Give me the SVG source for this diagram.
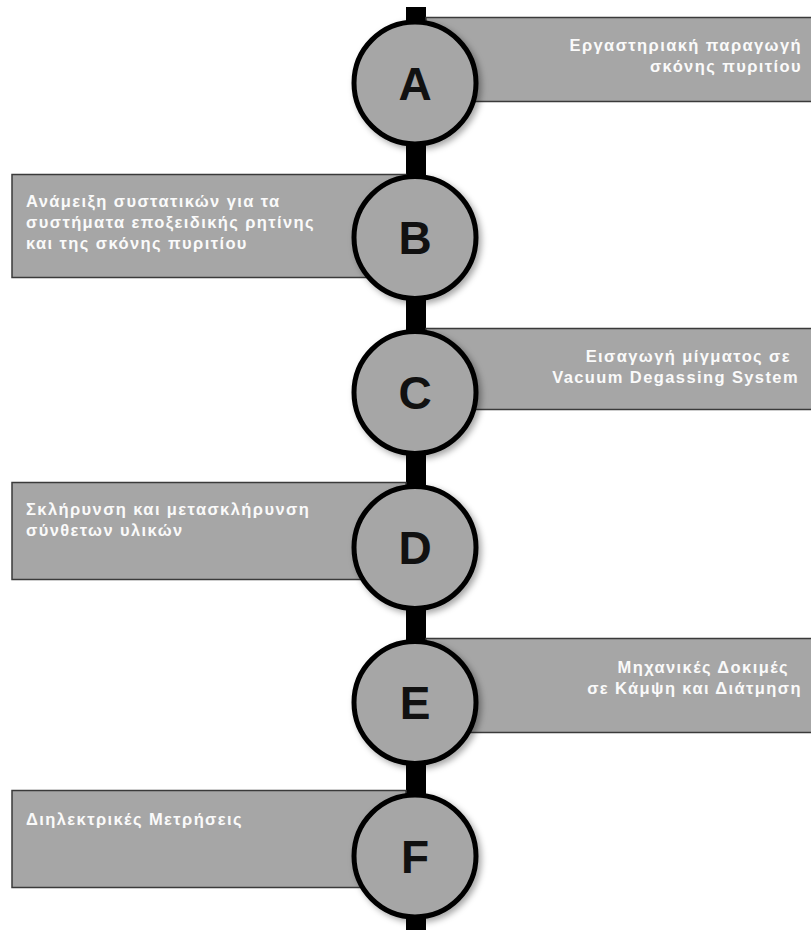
<svg xmlns="http://www.w3.org/2000/svg" width="811" height="930" viewBox="0 0 811 930">
<defs>
<filter id="sh" x="-20%" y="-20%" width="150%" height="150%">
<feDropShadow dx="3" dy="3" stdDeviation="3" flood-color="#000" flood-opacity="0.35"/>
</filter>
<style>
.box{fill:#a6a6a6;stroke:#3a3a3a;stroke-width:1.5}
.circ{fill:#a6a6a6;stroke:#000;stroke-width:5}
.letter{font-family:"Liberation Sans",Arial,sans-serif;font-weight:bold;font-size:46px;fill:#111;text-anchor:middle}
.lbl{font-family:"Liberation Sans",Arial,sans-serif;font-weight:bold;font-size:16.5px;fill:#fafafa;letter-spacing:1.4px}
.r{text-anchor:end}
.bar{stroke:#000;stroke-width:20;fill:none}
</style>
</defs>
<rect width="811" height="930" fill="#fff"/>
<g id="connectors">
<line class="bar" x1="416" y1="7" x2="416" y2="30"/>
<line class="bar" x1="416" y1="140" x2="416" y2="185"/>
<line class="bar" x1="416" y1="295" x2="416" y2="340"/>
<line class="bar" x1="416" y1="450" x2="416" y2="495"/>
<line class="bar" x1="416" y1="605" x2="416" y2="650"/>
<line class="bar" x1="416" y1="760" x2="416" y2="805"/>
<line class="bar" x1="416" y1="910" x2="416" y2="930"/>
</g>
<g id="nodeA">
<rect class="box" x="426" y="17.5" width="390" height="84"/>
<circle class="circ" cx="415" cy="83" r="61" filter="url(#sh)"/>
<text class="letter" x="415" y="100">A</text>
<text class="lbl r" x="802" y="51">Εργαστηριακή παραγωγή</text>
<text class="lbl r" x="802" y="72">σκόνης πυριτίου</text>
</g>
<g id="nodeB">
<rect class="box" x="12" y="174.5" width="394" height="103"/>
<circle class="circ" cx="415" cy="237.5" r="61" filter="url(#sh)"/>
<text class="letter" x="415" y="254">B</text>
<text class="lbl" x="26" y="207">Ανάμειξη συστατικών για τα</text>
<text class="lbl" x="26" y="228">συστήματα εποξειδικής ρητίνης</text>
<text class="lbl" x="26" y="249">και της σκόνης πυριτίου</text>
</g>
<g id="nodeC">
<rect class="box" x="426" y="328.5" width="390" height="81"/>
<circle class="circ" cx="415" cy="392.5" r="61" filter="url(#sh)"/>
<text class="letter" x="415" y="409">C</text>
<text class="lbl r" x="791" y="362">Εισαγωγή μίγματος σε</text>
<text class="lbl r" x="799" y="383">Vacuum Degassing System</text>
</g>
<g id="nodeD">
<rect class="box" x="12" y="482.5" width="394" height="97"/>
<circle class="circ" cx="415" cy="547.5" r="61" filter="url(#sh)"/>
<text class="letter" x="415" y="564">D</text>
<text class="lbl" x="26" y="515">Σκλήρυνση και μετασκλήρυνση</text>
<text class="lbl" x="26" y="536">σύνθετων υλικών</text>
</g>
<g id="nodeE">
<rect class="box" x="426" y="638.5" width="390" height="94"/>
<circle class="circ" cx="415" cy="702.5" r="61" filter="url(#sh)"/>
<text class="letter" x="415" y="719">E</text>
<text class="lbl r" x="789" y="673">Μηχανικές Δοκιμές</text>
<text class="lbl r" x="802" y="694">σε Κάμψη και Διάτμηση</text>
</g>
<g id="nodeF">
<rect class="box" x="12" y="790.5" width="394" height="97"/>
<circle class="circ" cx="415" cy="856" r="61" filter="url(#sh)"/>
<text class="letter" x="415" y="872.5">F</text>
<text class="lbl" x="26" y="825">Διηλεκτρικές Μετρήσεις</text>
</g>
</svg>
